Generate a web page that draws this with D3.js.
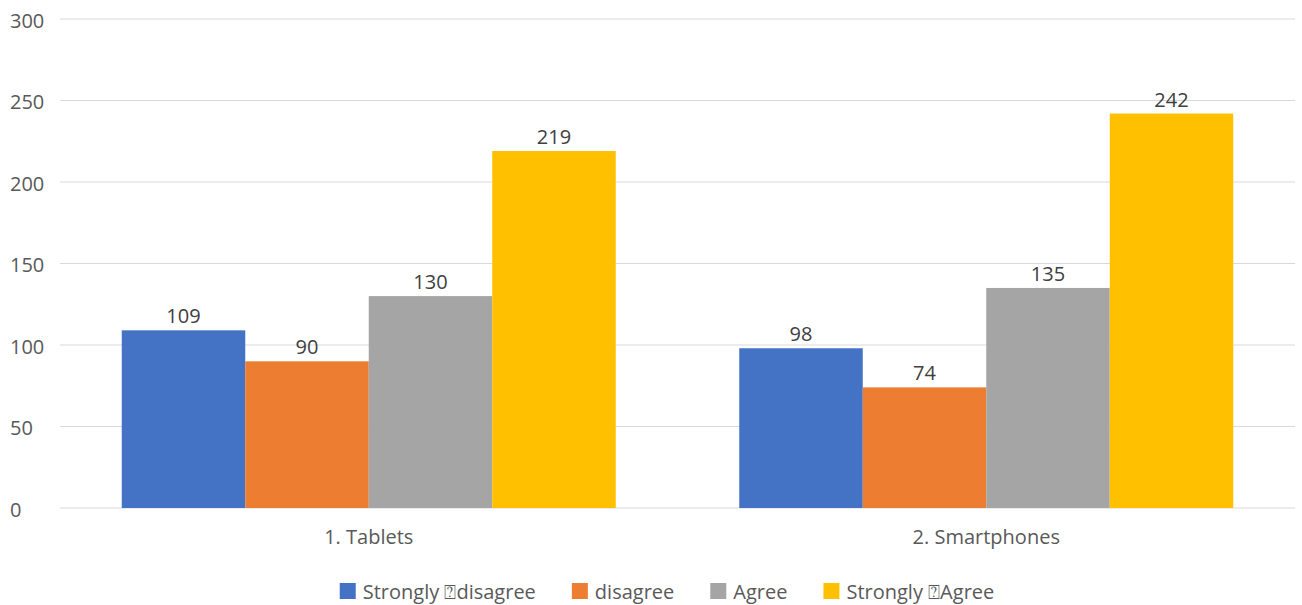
<!DOCTYPE html>
<html>
<head>
<meta charset="utf-8">
<script src="https://cdn.jsdelivr.net/npm/d3@7"></script>
<style>
  html, body { margin: 0; padding: 0; background: #fff; }
  svg { display: block; font-family: "Open Sans", "Liberation Sans", sans-serif; }
</style>
</head>
<body>
<svg id="chart" width="1302" height="605"></svg>
<script>
const categories = ["1. Tablets", "2. Smartphones"];
const seriesNames = ["Strongly \u2370disagree", "disagree", "Agree", "Strongly \u2370Agree"];
const seriesColors = ["#4472C4", "#ED7D31", "#A5A5A5", "#FFC000"];
const stronglyDisagree = [109, 98];
const disagree = [90, 74];
const agree = [130, 135];
const stronglyAgree = [219, 242];
const yTicks = [0, 50, 100, 150, 200, 250, 300];

const seriesValues = [stronglyDisagree, disagree, agree, stronglyAgree];

const svg = d3.select("#chart");
const plotLeft = 60, plotRight = 1295, plotTop = 19, plotBottom = 508;
const fontSize = "20px";

const x0 = d3.scaleBand().domain(categories).range([plotLeft, plotRight]).paddingInner(0.2).paddingOuter(0.1);
const x1 = d3.scaleBand().domain(d3.range(seriesNames.length)).range([0, x0.bandwidth()]);
const y = d3.scaleLinear().domain([0, 300]).range([plotBottom, plotTop]);

// Horizontal gridlines
svg.append("g").selectAll("line").data(yTicks).join("line")
  .attr("x1", plotLeft).attr("x2", plotRight)
  .attr("y1", d => y(d)).attr("y2", d => y(d))
  .attr("stroke", "#D9D9D9").attr("stroke-width", 1);

// Y axis labels, left-aligned in the margin
const yAxis = d3.axisLeft(y).tickValues(yTicks).tickSize(0);
const yg = svg.append("g").attr("transform", `translate(${plotLeft},0)`).call(yAxis);
yg.select(".domain").remove();
yg.selectAll("text").attr("fill", "#595959").style("font-size", fontSize)
  .style("font-family", "'Open Sans', sans-serif")
  .attr("x", 10 - plotLeft).attr("dy", "0.42em").attr("text-anchor", "start");

// Bars with value labels
const groups = svg.append("g").selectAll("g").data(categories).join("g")
  .attr("transform", d => `translate(${x0(d)},0)`);

groups.each(function(cat, ci) {
  const g = d3.select(this);
  const vals = seriesValues.map((s, si) => ({ si, v: s[ci] }));
  g.selectAll("rect").data(vals).join("rect")
    .attr("x", d => x1(d.si))
    .attr("width", x1.bandwidth())
    .attr("y", d => y(d.v))
    .attr("height", d => y(0) - y(d.v))
    .attr("fill", d => seriesColors[d.si]);
  g.selectAll("text.val").data(vals).join("text")
    .attr("class", "val")
    .attr("x", d => x1(d.si) + x1.bandwidth() / 2)
    .attr("y", d => y(d.v) - 7)
    .attr("text-anchor", "middle")
    .attr("fill", "#404040")
    .style("font-size", fontSize)
    .text(d => d.v);
});

// Category axis
const xAxis = d3.axisBottom(x0).tickSize(0).tickPadding(0);
const xg = svg.append("g").attr("transform", `translate(0,${plotBottom})`).call(xAxis);
xg.select(".domain").remove();
xg.selectAll("text").attr("fill", "#595959").style("font-size", fontSize)
  .style("font-family", "'Open Sans', sans-serif")
  .attr("y", 36).attr("dy", null);

// Legend
const legend = svg.append("g");
const items = legend.selectAll("g").data(seriesNames).join("g");
items.append("rect").attr("width", 16).attr("height", 16).attr("y", -16)
  .attr("fill", (d, i) => seriesColors[i]);
items.append("text").attr("x", 23).attr("y", 0).attr("fill", "#595959")
  .style("font-size", fontSize).text(d => d);
const gap = 36;
const widths = items.nodes().map(n => n.getBBox().width);
const total = d3.sum(widths) + gap * (widths.length - 1);
let cx = 667 - total / 2;
items.attr("transform", (d, i) => {
  const t = `translate(${cx},599)`;
  cx += widths[i] + gap;
  return t;
});
</script>
</body>
</html>
